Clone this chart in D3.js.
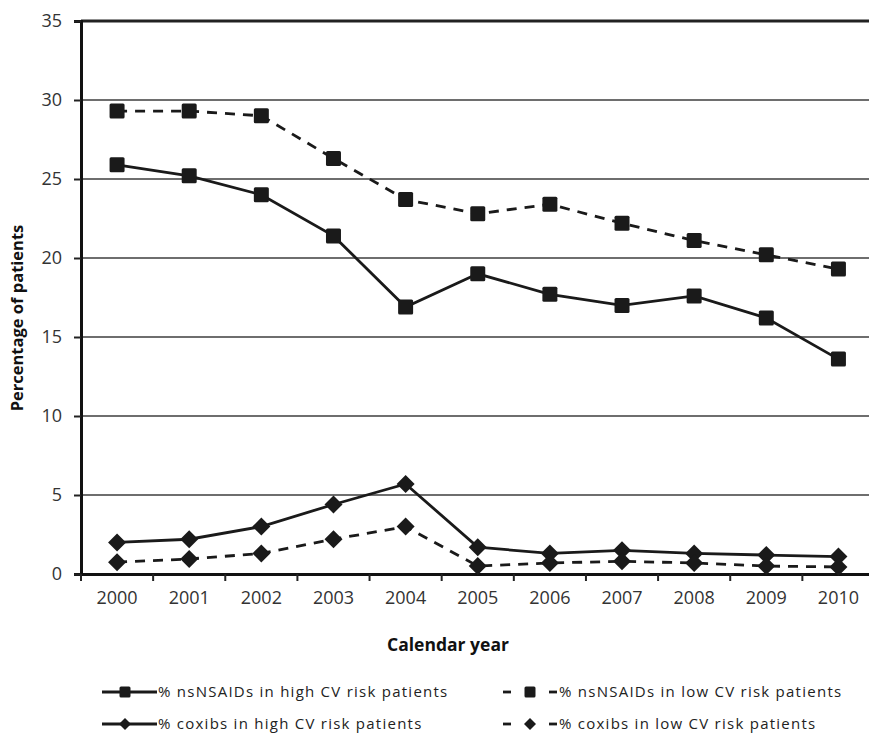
<!DOCTYPE html>
<html>
<head>
<meta charset="utf-8">
<script src="https://cdn.jsdelivr.net/npm/d3@7"></script>
<style>
  body { margin: 0; background: #fff; }
  svg { display: block; font-family: "Open Sans", "Liberation Sans", sans-serif; }
</style>
</head>
<body>
<svg id="chart" width="869" height="737"></svg>
<script>
// data
var years = ["2000", "2001", "2002", "2003", "2004", "2005", "2006", "2007", "2008", "2009", "2010"];
var nsHigh = [25.9, 25.2, 24.0, 21.4, 16.9, 19.0, 17.7, 17.0, 17.6, 16.2, 13.6];
var nsLow = [29.3, 29.3, 29.0, 26.3, 23.7, 22.8, 23.4, 22.2, 21.1, 20.2, 19.3];
var coxHigh = [2.0, 2.2, 3.0, 4.4, 5.7, 1.7, 1.3, 1.5, 1.3, 1.2, 1.1];
var coxLow = [0.75, 0.95, 1.3, 2.2, 3.0, 0.5, 0.7, 0.8, 0.7, 0.5, 0.45];
var yTicks = [0, 5, 10, 15, 20, 25, 30, 35];

var series = [
    { name: "% nsNSAIDs  in high CV risk patients", values: nsHigh, dash: null, shape: "square" },
    { name: "% nsNSAIDs  in low CV risk patients", values: nsLow, dash: "10,8", shape: "square" },
    { name: "% coxibs in high CV risk patients", values: coxHigh, dash: null, shape: "diamond" },
    { name: "% coxibs in low CV risk patients", values: coxLow, dash: "10,8", shape: "diamond" }
];

var svg = d3.select("#chart");
var plot = { left: 81, right: 874.5, top: 21, bottom: 574 };

var x = d3.scaleBand()
    .domain(years)
    .range([plot.left, plot.right]);

var y = d3.scaleLinear()
    .domain([0, 35])
    .range([plot.bottom, plot.top]);

// gridlines
svg.append("g")
    .selectAll("line")
    .data(yTicks.filter(d => d > 0 && d < 35))
    .enter().append("line")
    .attr("x1", plot.left).attr("x2", 869)
    .attr("y1", d => y(d)).attr("y2", d => y(d))
    .attr("stroke", "#6e6e6e")
    .attr("stroke-width", 2);

// top border
svg.append("line")
    .attr("x1", plot.left).attr("x2", 869)
    .attr("y1", y(35)).attr("y2", y(35))
    .attr("stroke", "#222")
    .attr("stroke-width", 3);

// y axis
var yAxis = svg.append("g")
    .attr("transform", "translate(" + plot.left + ",0)")
    .call(d3.axisLeft(y).tickValues(yTicks).tickSize(7).tickPadding(12));
yAxis.select(".domain").attr("stroke", "#111").attr("stroke-width", 3);
yAxis.selectAll(".tick line").attr("stroke", "#222").attr("stroke-width", 2);
yAxis.selectAll(".tick text").attr("font-size", 18).attr("fill", "#333")
    .attr("font-family", "'Open Sans', sans-serif");

// x axis
var xAxis = svg.append("g")
    .attr("transform", "translate(0," + plot.bottom + ")")
    .call(d3.axisBottom(x).tickSize(0).tickPadding(17));
xAxis.select(".domain").attr("stroke", "#111").attr("stroke-width", 3);
xAxis.selectAll(".tick text").attr("font-size", 18).attr("fill", "#333")
    .attr("font-family", "'Open Sans', sans-serif");

// x tick marks between bands
svg.append("g")
    .selectAll("line")
    .data(years)
    .enter().append("line")
    .attr("x1", d => x(d)).attr("x2", d => x(d))
    .attr("y1", plot.bottom).attr("y2", plot.bottom + 7)
    .attr("stroke", "#222")
    .attr("stroke-width", 2);

// axis titles
svg.append("text")
    .attr("x", 448).attr("y", 651)
    .attr("text-anchor", "middle")
    .attr("font-size", 17.5).attr("font-weight", "bold").attr("fill", "#111")
    .text("Calendar year");

svg.append("text")
    .attr("transform", "translate(23,318) rotate(-90)")
    .attr("text-anchor", "middle")
    .attr("font-size", 16.5).attr("font-weight", "bold").attr("fill", "#111")
    .text("Percentage of patients");

var line = d3.line()
    .x((d, i) => x(years[i]) + x.bandwidth() / 2)
    .y(d => y(d));

// size = side for squares, half-diagonal for diamonds
function marker(sel, shape, size) {
    if (shape === "square") {
        sel.append("rect")
            .attr("x", -size / 2).attr("y", -size / 2)
            .attr("width", size).attr("height", size)
            .attr("rx", 1.5)
            .attr("fill", "#1a1a1a");
    } else {
        var h = size;
        sel.append("path")
            .attr("d", "M0," + (-h) + "L" + h + ",0L0," + h + "L" + (-h) + ",0Z")
            .attr("fill", "#1a1a1a");
    }
}

series.forEach(function (s) {
    svg.append("path")
        .datum(s.values)
        .attr("d", line)
        .attr("fill", "none")
        .attr("stroke", "#1a1a1a")
        .attr("stroke-width", 2.8)
        .attr("stroke-dasharray", s.dash);

    svg.append("g").selectAll("g")
        .data(s.values)
        .enter().append("g")
        .attr("transform", (d, i) => "translate(" + (x(years[i]) + x.bandwidth() / 2) + "," + y(d) + ")")
        .each(function () { marker(d3.select(this), s.shape, s.shape === "square" ? 15 : 9); });
});

// legend
var legPos = [[102, 692], [503, 692], [102, 724], [503, 724]];
series.forEach(function (s, i) {
    var g = svg.append("g").attr("transform", "translate(" + legPos[i][0] + "," + legPos[i][1] + ")");
    if (s.dash) {
        g.append("line").attr("x1", 0).attr("x2", 8).attr("stroke", "#1a1a1a").attr("stroke-width", 2.8);
        g.append("line").attr("x1", 46).attr("x2", 54).attr("stroke", "#1a1a1a").attr("stroke-width", 2.8);
    } else {
        g.append("line").attr("x1", 0).attr("x2", 55).attr("stroke", "#1a1a1a").attr("stroke-width", 2.8);
    }
    var m = g.append("g").attr("transform", "translate(" + (s.dash ? 27 : 23) + ",0)");
    marker(m, s.shape, s.shape === "square" ? 11 : 6);
    g.append("text")
        .attr("x", 56).attr("y", 5)
        .attr("font-size", 15).attr("fill", "#222")
        .attr("letter-spacing", 1.25)
        .attr("font-family", "'Open Sans', sans-serif")
        .text(s.name);
});
</script>
</body>
</html>
